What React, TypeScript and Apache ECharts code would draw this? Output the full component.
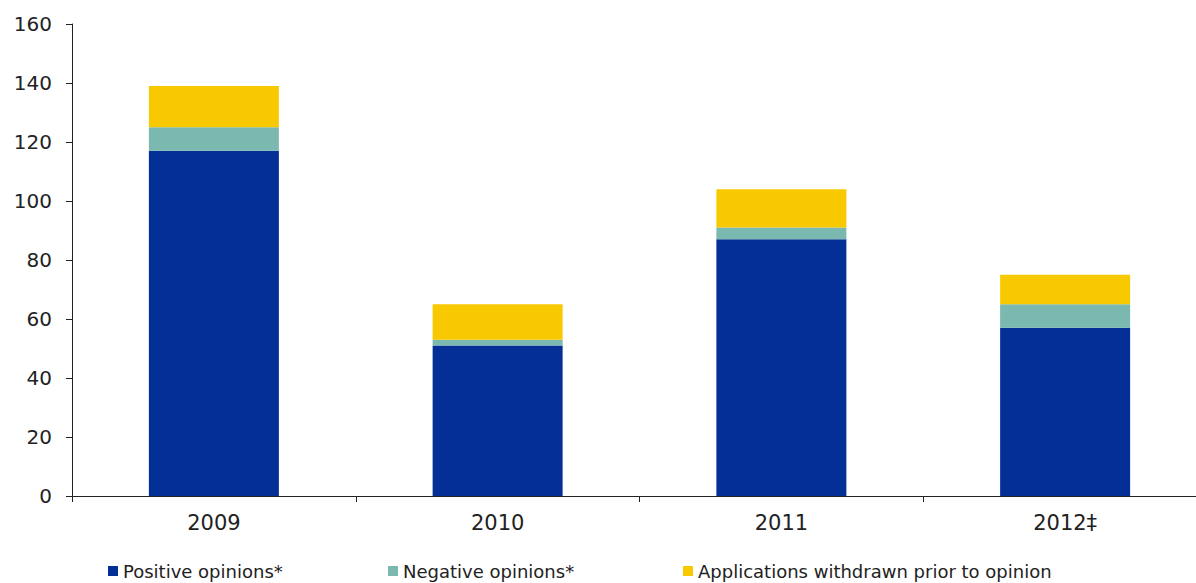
import React, { useEffect, useRef } from "react";
import * as echarts from "echarts";

const categories = ["2009", "2010", "2011", "2012‡"];
const positive = [117, 51, 87, 57];
const negative = [8, 2, 4, 8];
const withdrawn = [14, 12, 13, 10];
const yTicks = { min: 0, max: 160, interval: 20 };

const seriesNames = ["Positive opinions*", "Negative opinions*", "Applications withdrawn prior to opinion"];
const colors = ["#032F96", "#7AB8B0", "#F8C800"];

export default function App() {
  const ref = useRef<HTMLDivElement>(null);
  useEffect(() => {
    if (!ref.current) return;
    const chart = echarts.init(ref.current, undefined, { renderer: "svg" });
    const font = "DejaVu Sans, Verdana, sans-serif";
    const legendBase = {
      top: 562,
      padding: 0,
      itemWidth: 10,
      itemHeight: 10,
      icon: "rect",
      textStyle: { fontFamily: font, fontSize: 18, color: "#222" },
      selectedMode: false,
    };
    chart.setOption({
      animation: false,
      color: colors,
      grid: { left: 72, top: 24, bottom: 87, width: 1135 },
      legend: [
        { ...legendBase, left: 108, data: [seriesNames[0]] },
        { ...legendBase, left: 388, data: [seriesNames[1]] },
        { ...legendBase, left: 683, data: [seriesNames[2]] },
      ],
      xAxis: {
        type: "category",
        data: categories,
        axisLine: { lineStyle: { color: "#222", width: 1 } },
        axisTick: { show: true, length: 6, lineStyle: { color: "#222" } },
        axisLabel: { fontFamily: font, fontSize: 21, color: "#222", margin: 16 },
      },
      yAxis: {
        type: "value",
        min: yTicks.min,
        max: yTicks.max,
        interval: yTicks.interval,
        axisLine: { show: true, lineStyle: { color: "#222", width: 1 } },
        axisTick: { show: true, length: 6, lineStyle: { color: "#222" } },
        splitLine: { show: false },
        axisLabel: { fontFamily: font, fontSize: 20, color: "#222", margin: 20 },
      },
      series: [
        { name: seriesNames[0], type: "bar", stack: "a", data: positive, barWidth: 130 },
        { name: seriesNames[1], type: "bar", stack: "a", data: negative, barWidth: 130 },
        { name: seriesNames[2], type: "bar", stack: "a", data: withdrawn, barWidth: 130 },
      ],
    });
    return () => chart.dispose();
  }, []);
  return (
    <div style={{ position: "fixed", left: 0, top: 0, width: 1196, height: 583, overflow: "hidden", background: "#fff" }}>
      <div ref={ref} style={{ width: 1230, height: 583 }} />
    </div>
  );
}
